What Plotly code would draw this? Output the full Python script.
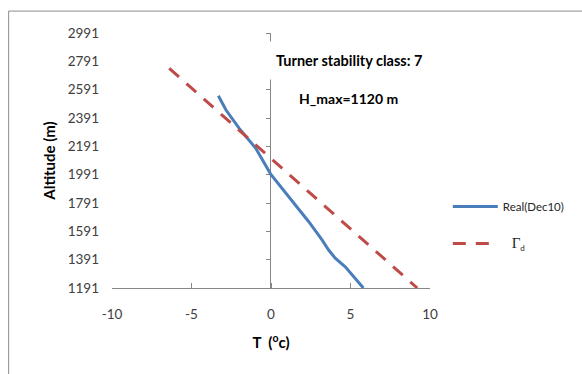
import plotly.graph_objects as go

# Data
real_T = [-3.31, -3.1, -2.83, -2.0, -0.96, -0.02, 1.125, 2.375, 3.21, 3.625, 4.04, 4.67, 5.81]
real_alt = [2548, 2505, 2447, 2318, 2177, 1995, 1835, 1659, 1530, 1459, 1401, 1341, 1191]
gamma_T = [-6.4, 9.2]
gamma_alt = [2742, 1191]
y_ticks = [1191, 1391, 1591, 1791, 1991, 2191, 2391, 2591, 2791, 2991]
x_ticks = [-10, -5, 0, 5, 10]
x_tick_text = ["-10", "-5", "0", "5", "10"]

FONT = "Lato"
AX = "#868686"
TXT = "#404040"

fig = go.Figure()
fig.add_trace(go.Scatter(x=real_T, y=real_alt, mode="lines", name="Real(Dec10)",
                         line=dict(color="#4A7EBB", width=3), legendgroup="a"))
fig.add_trace(go.Scatter(x=gamma_T, y=gamma_alt, mode="lines",
                         name="&nbsp;&nbsp;&nbsp;<span style='font-family:Liberation Serif;font-size:15px'>Γ</span><sub>d</sub>",
                         line=dict(color="#BE4B48", width=3, dash="13px,10px"),
                         yaxis="y2", legendgroup="b"))

fig.update_layout(
    width=582, height=374,
    margin=dict(l=112, r=150, t=33, b=86),
    paper_bgcolor="white", plot_bgcolor="white",
    font=dict(family=FONT, size=13.5, color=TXT),
    showlegend=True,
    legend=dict(x=1.056, xanchor="left", y=0.376, yanchor="top",
                font=dict(family=FONT, size=11.5, color="#262626"),
                tracegroupgap=18, traceorder="grouped", itemwidth=45,
                bgcolor="rgba(0,0,0,0)"),
    xaxis=dict(range=[-10, 10], tickvals=x_ticks, ticktext=x_tick_text,
               ticks="inside", ticklen=5,
               tickcolor=AX, showline=True, linecolor=AX, linewidth=1,
               showgrid=False, zeroline=False, layer="below traces",
               ticklabelstandoff=14,
               title=dict(text="<b>T  (<sup>o</sup>c)</b>", standoff=16,
                          font=dict(family=FONT, size=15, color="black"))),
    yaxis=dict(range=[1191, 2991], tickvals=y_ticks, ticks="", showline=False,
               showgrid=False, zeroline=False, ticklabelstandoff=12,
               title=dict(text="<b>Altitude (m)</b>", standoff=8,
                          font=dict(family=FONT, size=15, color="black"))),
    yaxis2=dict(range=[1191, 2991], tickvals=y_ticks, overlaying="y", anchor="free",
                position=0.497, side="left", showticklabels=False, ticks="outside",
                ticklen=4, tickcolor=AX, showline=True, linecolor=AX, linewidth=1,
                showgrid=False, zeroline=False, layer="below traces"),
    shapes=[dict(type="rect", xref="paper", yref="paper", x0=-0.325, x1=2.0,
                 y0=-1.0, y1=1.086, line=dict(color="#8c8c8c", width=1),
                 layer="below")],
    annotations=[
        dict(text="<b>Turner stability class: 7</b>", xref="paper", yref="paper",
             x=0.744, y=0.894, xanchor="center", yanchor="middle", showarrow=False,
             bgcolor="white", borderpad=10,
             font=dict(family=FONT, size=14.5, color="black")),
        dict(text="<b>H_max=1120 m</b>", xref="paper", yref="paper",
             x=0.581, y=0.745, xanchor="left", yanchor="middle", showarrow=False,
             font=dict(family=FONT, size=14, color="black")),
    ],
)

fig.write_html("out.html")
